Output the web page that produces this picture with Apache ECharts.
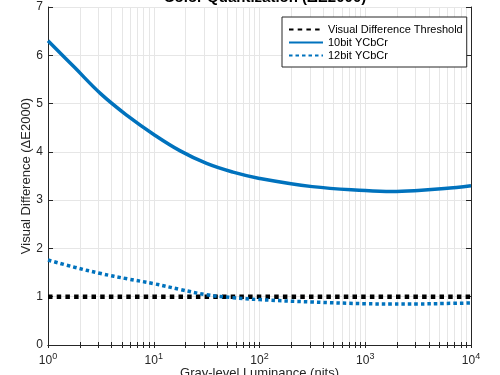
<!DOCTYPE html>
<html><head><meta charset="utf-8">
<script src="https://cdn.jsdelivr.net/npm/echarts@6/dist/echarts.min.js"></script>
<style>html,body{margin:0;padding:0;background:#fff}#c{width:500px;height:375px}</style>
</head><body><div id="c"></div>
<script>
// Luminance sample points (nits)
const luminance = [1, 1.78, 3.16, 5.62, 10, 17.8, 31.6, 56.2, 100, 316, 1000, 1780, 3160, 5620, 10000];
const bit10 = [6.3, 5.75, 5.2, 4.75, 4.36, 4.02, 3.76, 3.58, 3.45, 3.28, 3.2, 3.18, 3.2, 3.24, 3.3];
const bit12 = [1.76, 1.61, 1.48, 1.37, 1.27, 1.15, 1.04, 0.98, 0.94, 0.89, 0.855, 0.85, 0.85, 0.86, 0.87];
const thresholdX = [1, 10000];
const thresholdY = [1, 1];
const xMajorTicks = [1, 10, 100, 1000, 10000];
const xAllTicks = [];
[1, 10, 100, 1000].forEach(d => { for (let k = 1; k < 10; k++) xAllTicks.push(d * k); });
xAllTicks.push(10000);

const pairs = (xs, ys) => xs.map((x, i) => [x, ys[i]]);
const txt = '#262626';
const blue = '#0072BD';
const font = 'Liberation Sans, Arial';

const chart = echarts.init(document.getElementById('c'), null, {renderer: 'canvas'});
chart.setOption({
  animation: false,
  backgroundColor: '#fff',
  title: {
    text: 'Color Quantization (\u0394E2000)', left: 260, textAlign: 'center', top: -15,
    textStyle: {fontFamily: font, fontSize: 15, fontWeight: 'bold', color: '#000'}
  },
  grid: {left: 48, right: 29, top: 7, bottom: 30, containLabel: false, outerBoundsMode: 'none'},
  legend: {
    orient: 'vertical', left: 282, top: 17,
    backgroundColor: '#fff', borderColor: txt, borderWidth: 1,
    padding: [7, 4, 6, 6], itemGap: 2, itemWidth: 34, itemHeight: 12,
    itemStyle: {opacity: 0},
    textStyle: {fontFamily: font, fontSize: 11, color: '#000'},
    data: ['Visual Difference Threshold', '10bit YCbCr', '12bit YCbCr']
  },
  xAxis: [{
    type: 'log', min: 1, max: 10000, logBase: 10,
    name: 'Gray-level Luminance (nits)', nameLocation: 'middle', nameGap: 22, nameMoveOverlap: false,
    nameTextStyle: {fontFamily: font, fontSize: 13, color: txt},
    axisLine: {lineStyle: {color: txt, width: 1}},
    axisTick: {show: true, inside: true, length: 3, lineStyle: {color: txt}, customValues: xAllTicks},
    axisLabel: {
      customValues: xMajorTicks, margin: 7, color: txt, fontFamily: font, fontSize: 12,
      formatter: v => '10{s|' + Math.round(Math.log10(v)) + '}',
      rich: {s: {fontSize: 9, verticalAlign: 'top', padding: [0, 0, 8, 0], color: txt, fontFamily: font}}
    },
    splitLine: {show: true, lineStyle: {color: '#e6e6e6', width: 1}}
  }, {
    type: 'log', min: 1, max: 10000, position: 'top',
    axisLine: {lineStyle: {color: txt, width: 1}},
    axisTick: {show: true, inside: true, length: 3, lineStyle: {color: txt}, customValues: xAllTicks},
    axisLabel: {show: false}, splitLine: {show: false}
  }],
  yAxis: [{
    type: 'value', min: 0, max: 7, interval: 1,
    name: 'Visual Difference (\u0394E2000)', nameLocation: 'middle', nameGap: 15, nameRotate: 90, nameMoveOverlap: false,
    nameTextStyle: {fontFamily: font, fontSize: 13, color: txt},
    axisLine: {show: true, lineStyle: {color: txt, width: 1}},
    axisTick: {show: true, inside: true, length: 5, lineStyle: {color: txt}},
    axisLabel: {color: txt, fontFamily: font, fontSize: 12, margin: 5},
    splitLine: {show: true, lineStyle: {color: '#e6e6e6', width: 1}}
  }, {
    type: 'value', min: 0, max: 7, interval: 1, position: 'right',
    axisLine: {show: true, lineStyle: {color: txt, width: 1}},
    axisTick: {show: true, inside: true, length: 5, lineStyle: {color: txt}},
    axisLabel: {show: false}, splitLine: {show: false}
  }],
  series: [{
    name: 'Visual Difference Threshold', type: 'line', symbol: 'none', z: 3,
    data: pairs(thresholdX, thresholdY),
    itemStyle: {color: '#000'},
    lineStyle: {color: '#000', width: 4.5, type: [4.5, 4.2], cap: 'butt'}
  }, {
    name: '10bit YCbCr', type: 'line', symbol: 'none', smooth: 0.4, z: 4,
    data: pairs(luminance, bit10),
    itemStyle: {color: blue},
    lineStyle: {color: blue, width: 3.5}
  }, {
    name: '12bit YCbCr', type: 'line', symbol: 'none', smooth: 0.4, z: 4,
    data: pairs(luminance, bit12),
    itemStyle: {color: blue},
    lineStyle: {color: blue, width: 3.5, type: [3.5, 3], cap: 'butt'}
  }]
});
</script></body></html>
